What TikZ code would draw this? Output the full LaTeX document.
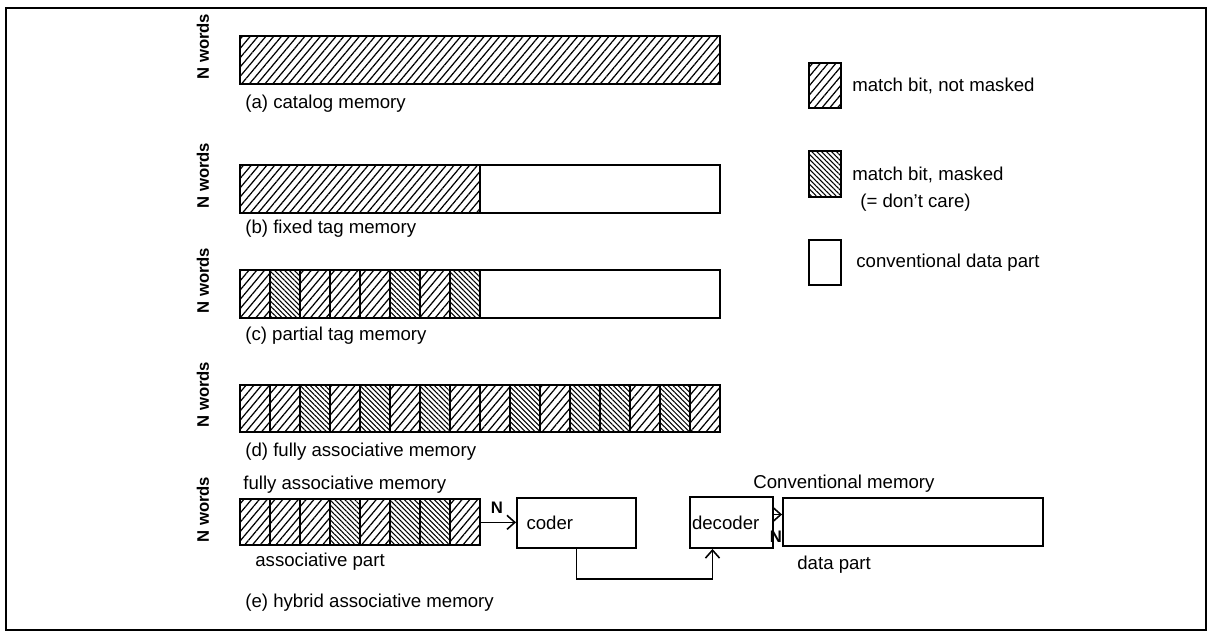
\documentclass[tikz,border=0pt]{standalone}
\usepackage{fontspec}
\setmainfont{Liberation Sans}
\usetikzlibrary{arrows.meta, patterns.meta, calc, positioning}

\begin{document}
\begin{tikzpicture}[x=0.02cm, y=-0.02cm,
  box/.style={draw, line width=1.1pt},
  celln/.style={box, pattern={Lines[angle=50,distance=3.4pt,line width=0.7pt]}},
  cellm/.style={box, pattern={Lines[angle=-45,distance=2pt,line width=0.6pt]}},
  nw/.style={rotate=90, anchor=west, inner sep=0pt, font=\bfseries\fontsize{9.5}{11}\selectfont},
  lbl/.style={anchor=west, inner sep=0pt, font=\fontsize{10.6}{12}\selectfont},
  nlab/.style={inner sep=0pt, font=\bfseries\fontsize{9.5}{11}\selectfont},
  arr/.style={line width=0.9pt, -{Straight Barb[length=4.5pt,width=8pt]}}]
  \useasboundingbox (0,0) rectangle (1209,632);
  \draw[line width=1.2pt] (6,8) rectangle (1206,630);

  % (a) catalog memory
  \node[nw] (nwa) at (203,80) {N words};
  \draw[celln] (240,36) rectangle (720,84);
  \node[lbl] (laba) at (245,104) {(a) catalog memory};

  % (b) fixed tag memory
  \node[nw] (nwb) at (203,209) {N words};
  \draw[celln] (240,165) rectangle (480,213);
  \draw[box] (480,165) rectangle (720,213);
  \node[lbl] (labb) at (245,229) {(b) fixed tag memory};

  % (c) partial tag memory
  \node[nw] (nwc) at (203,314) {N words};
  \foreach \m [count=\i from 0] in {n,m,n,n,n,m,n,m}
    \draw[cell\m] (240+30*\i,270) rectangle ++(30,48);
  \draw[box] (480,270) rectangle (720,318);
  \node[lbl] (labc) at (245,336) {(c) partial tag memory};

  % (d) fully associative memory
  \node[nw] (nwd) at (203,428) {N words};
  \foreach \m [count=\i from 0] in {n,n,m,n,m,n,m,n,n,m,n,m,m,n,m,n}
    \draw[cell\m] (240+30*\i,385) rectangle ++(30,47);
  \node[lbl] (labd) at (245,452) {(d) fully associative memory};

  % (e) hybrid associative memory
  \node[nw] (nwe) at (203,543) {N words};
  \node[lbl] (fam) at (243,485) {fully associative memory};
  \foreach \m [count=\i from 0] in {n,n,n,m,n,m,m,n}
    \draw[cell\m] (240+30*\i,499) rectangle ++(30,46);
  \node[anchor=north west, inner sep=0pt, minimum width=4.8cm, minimum height=0.92cm] (assoc) at (240,499) {};
  \node[lbl] (asp) at (255,562) {associative part};
  \node[box, font=\fontsize{10.6}{12}\selectfont, text width=2cm, align=left, inner xsep=0.19cm, minimum height=1cm] (coder) at (576.5,523) {coder};
  \node[box, font=\fontsize{10.6}{12}\selectfont, text width=1.58cm, align=left, inner xsep=0.04cm, minimum height=1.02cm] (decoder) at (731.5,522.5) {decoder};
  \node[box, minimum width=5.2cm, minimum height=0.96cm] (data) at (913,522) {};
  \node[lbl] (conv) at (753,484) {Conventional memory};
  \node[lbl] (dpl) at (797,565) {data part};
  \node[nlab] (na) at (497,508) {N};
  \node[nlab] (nb) at (776,537) {N};
  \draw[arr] (assoc.east) -- (assoc.east -| coder.west);
  \draw[arr] (coder.south) -- ++(0,30) -| ($(decoder.south)+(-19,0)$);
  \coordinate (dout) at ($(decoder.east)+(0,-8)$);
  \draw[arr] (dout) -- (dout -| data.west);
  \node[lbl] (labe) at (245,603) {(e) hybrid associative memory};

  % legend
  \draw[celln] (809,63) rectangle (841,108);
  \node[lbl] (key1) at (852,86) {match bit, not masked};
  \draw[cellm] (809,151) rectangle (841,197);
  \node[lbl] (key2) at (852,175) {match bit, masked};
  \node[lbl] (key2b) at (860,203) {(= don't care)};
  \draw[box] (809,240) rectangle (841,285);
  \node[lbl] (key3) at (856,263) {conventional data part};
\end{tikzpicture}
\end{document}
